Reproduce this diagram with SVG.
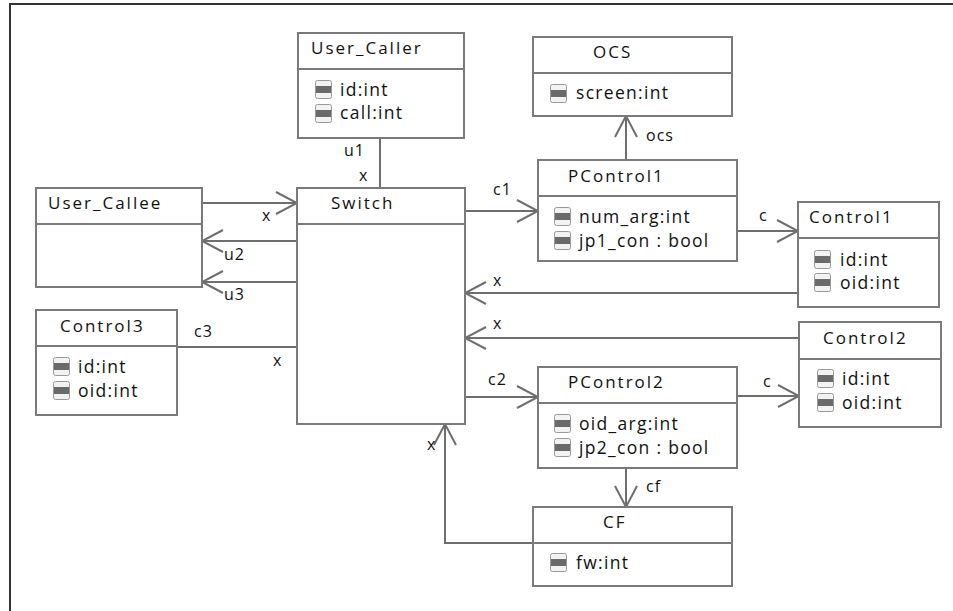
<svg xmlns="http://www.w3.org/2000/svg" width="953" height="611" viewBox="0 0 953 611">
<defs>
<style>
.box{fill:#fff;stroke:#7a7a7a;stroke-width:2}
.div{stroke:#7a7a7a;stroke-width:2}
.t{font-family:"Open Sans","Liberation Sans",sans-serif;font-size:17px;fill:#111;letter-spacing:2px}
.a{font-family:"Open Sans","Liberation Sans",sans-serif;font-size:17.5px;fill:#111;letter-spacing:1.3px}
.l{font-family:"Open Sans","Liberation Sans",sans-serif;font-size:16px;fill:#111;letter-spacing:1px}
.c{fill:none;stroke:#6e6e6e;stroke-width:2}
</style>
<marker id="arr" viewBox="0 0 24 24" refX="22" refY="12" markerWidth="24" markerHeight="24" markerUnits="userSpaceOnUse" orient="auto">
<path d="M1,1 L22,12 L1,23" fill="none" stroke="#6e6e6e" stroke-width="2"/>
</marker>
<g id="ic">
<rect x="0.5" y="0.5" width="16" height="18" rx="2" fill="#f2f2f2" stroke="#9a9a9a" stroke-width="1"/>
<rect x="1" y="6" width="15" height="7" fill="#6a6a6a"/>
</g>
</defs>
<rect x="0" y="0" width="953" height="611" fill="#fff"/>
<path d="M10,611 L10,4 L953,4" fill="none" stroke="#333" stroke-width="2"/>

<g id="connectors">
<line class="c" x1="380" y1="138" x2="380" y2="188"/>
<line class="c" x1="202" y1="203" x2="297" y2="203" marker-end="url(#arr)"/>
<line class="c" x1="297" y1="241" x2="202" y2="241" marker-end="url(#arr)"/>
<line class="c" x1="297" y1="282" x2="202" y2="282" marker-end="url(#arr)"/>
<line class="c" x1="177" y1="347" x2="297" y2="347"/>
<line class="c" x1="465" y1="211" x2="538" y2="211" marker-end="url(#arr)"/>
<line class="c" x1="626" y1="160" x2="626" y2="116" marker-end="url(#arr)"/>
<line class="c" x1="737" y1="231" x2="798" y2="231" marker-end="url(#arr)"/>
<line class="c" x1="798" y1="293" x2="465" y2="293" marker-end="url(#arr)"/>
<line class="c" x1="799" y1="338" x2="465" y2="338" marker-end="url(#arr)"/>
<line class="c" x1="465" y1="397" x2="538" y2="397" marker-end="url(#arr)"/>
<line class="c" x1="737" y1="396" x2="799" y2="396" marker-end="url(#arr)"/>
<line class="c" x1="626" y1="468" x2="626" y2="507" marker-end="url(#arr)"/>
<polyline class="c" points="533,543 445,543 445,424" marker-end="url(#arr)"/>
<text class="l" x="344" y="156">u1</text>
<text class="l" x="359" y="181">x</text>
<text class="l" x="262" y="221">x</text>
<text class="l" x="224" y="260">u2</text>
<text class="l" x="224" y="300">u3</text>
<text class="l" x="194" y="337">c3</text>
<text class="l" x="273" y="366">x</text>
<text class="l" x="493" y="195">c1</text>
<text class="l" x="646" y="141">ocs</text>
<text class="l" x="759" y="221">c</text>
<text class="l" x="493" y="286">x</text>
<text class="l" x="493" y="329">x</text>
<text class="l" x="488" y="385">c2</text>
<text class="l" x="763" y="387">c</text>
<text class="l" x="646" y="492">cf</text>
<text class="l" x="427" y="450">x</text>
</g>

<g id="User_Caller">
<rect class="box" x="298" y="33" width="166" height="105"/>
<line class="div" x1="298" y1="69" x2="464" y2="69"/>
<text class="t" x="311" y="54">User_Caller</text>
<use href="#ic" x="315" y="80"/>
<text class="a" x="340" y="96">id:int</text>
<use href="#ic" x="315" y="104"/>
<text class="a" x="340" y="119">call:int</text>
</g>

<g id="Switch">
<rect class="box" x="297" y="188" width="168" height="236"/>
<line class="div" x1="297" y1="224" x2="465" y2="224"/>
<text class="t" x="331" y="209">Switch</text>
</g>

<g id="User_Callee">
<rect class="box" x="36" y="188" width="166" height="99"/>
<line class="div" x1="36" y1="224" x2="202" y2="224"/>
<text class="t" x="48" y="209">User_Callee</text>
</g>

<g id="Control3">
<rect class="box" x="36" y="310" width="141" height="105"/>
<line class="div" x1="36" y1="346" x2="177" y2="346"/>
<text class="t" x="60" y="332">Control3</text>
<use href="#ic" x="53" y="357"/>
<text class="a" x="78" y="373">id:int</text>
<use href="#ic" x="53" y="381"/>
<text class="a" x="78" y="397">oid:int</text>
</g>

<g id="OCS">
<rect class="box" x="533" y="37" width="199" height="79"/>
<line class="div" x1="533" y1="73" x2="732" y2="73"/>
<text class="t" x="593" y="58">OCS</text>
<use href="#ic" x="550" y="84"/>
<text class="a" x="576" y="99">screen:int</text>
</g>

<g id="PControl1">
<rect class="box" x="538" y="160" width="199" height="101"/>
<line class="div" x1="538" y1="196" x2="737" y2="196"/>
<text class="t" x="568" y="182">PControl1</text>
<use href="#ic" x="554" y="207"/>
<text class="a" x="579" y="223">num_arg:int</text>
<use href="#ic" x="554" y="231"/>
<text class="a" x="579" y="247">jp1_con : bool</text>
</g>

<g id="Control1">
<rect class="box" x="798" y="202" width="141" height="105"/>
<line class="div" x1="798" y1="238" x2="939" y2="238"/>
<text class="t" x="809" y="223">Control1</text>
<use href="#ic" x="814" y="250"/>
<text class="a" x="840" y="266">id:int</text>
<use href="#ic" x="814" y="273"/>
<text class="a" x="840" y="289">oid:int</text>
</g>

<g id="Control2">
<rect class="box" x="799" y="322" width="142" height="105"/>
<line class="div" x1="799" y1="359" x2="941" y2="359"/>
<text class="t" x="823" y="344">Control2</text>
<use href="#ic" x="817" y="369"/>
<text class="a" x="842" y="385">id:int</text>
<use href="#ic" x="817" y="393"/>
<text class="a" x="842" y="409">oid:int</text>
</g>

<g id="PControl2">
<rect class="box" x="538" y="367" width="199" height="101"/>
<line class="div" x1="538" y1="403" x2="737" y2="403"/>
<text class="t" x="568" y="388">PControl2</text>
<use href="#ic" x="554" y="414"/>
<text class="a" x="579" y="430">oid_arg:int</text>
<use href="#ic" x="554" y="438"/>
<text class="a" x="579" y="454">jp2_con : bool</text>
</g>

<g id="CF">
<rect class="box" x="533" y="507" width="199" height="79"/>
<line class="div" x1="533" y1="543" x2="732" y2="543"/>
<text class="t" x="603" y="528">CF</text>
<use href="#ic" x="550" y="553"/>
<text class="a" x="576" y="569">fw:int</text>
</g>
</svg>
